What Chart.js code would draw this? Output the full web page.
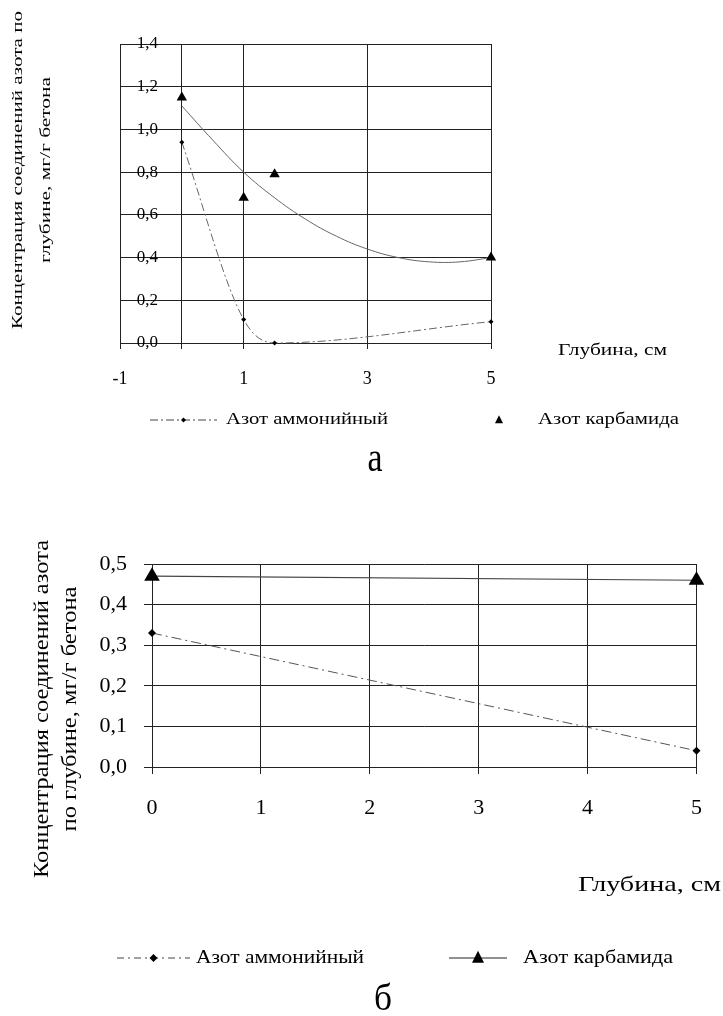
<!DOCTYPE html>
<html>
<head>
<meta charset="utf-8">
<script src="https://cdn.jsdelivr.net/npm/chart.js@4.4.1/dist/chart.umd.min.js"></script>
<style>
  html, body { margin: 0; padding: 0; background: #fff; }
  body { width: 723px; height: 1016px; position: relative; overflow: hidden; }
  canvas { position: absolute; left: 0; }
  #chartA { top: 0; }
  #chartB { top: 500px; }
</style>
</head>
<body>
<canvas id="chartA" width="723" height="500"></canvas>
<canvas id="chartB" width="723" height="516"></canvas>
<script>
// данные рисунка а
const depthA = [0, 1, 1.5, 5];
const ammoniumA = [0.94, 0.11, 0.0, 0.1];
const carbamideA = [1.15, 0.68, 0.79, 0.4];
// линия тренда
const trendDepthA = [0, 0.5, 1, 1.5, 2, 2.5, 3, 3.5, 4, 4.5, 5];
const trendA = [1.11, 0.95, 0.80, 0.68, 0.58, 0.50, 0.44, 0.40, 0.38, 0.38, 0.40];
const xTicksA = [-1, 1, 3, 5];
const yTicksA = [0, 0.2, 0.4, 0.6, 0.8, 1.0, 1.2, 1.4];
const valueAxisAtA = 0;

// данные рисунка б
const depthB = [0, 5];
const ammoniumB = [0.33, 0.04];
const carbamideB = [0.47, 0.46];
const xTicksB = [0, 1, 2, 3, 4, 5];
const yTicksB = [0, 0.1, 0.2, 0.3, 0.4, 0.5];

const seriesNames = ['Азот аммонийный', 'Азот карбамида'];
const yTitle = ['Концентрация соединений азота по', 'глубине, мг/г бетона'];
const yTitleB = ['Концентрация соединений азота', 'по глубине, мг/г бетона'];
const xTitle = 'Глубина, см';

const SERIF = '"Liberation Serif", "Times New Roman", serif';
const comma = v => Number(v).toFixed(1).replace('.', ',');
const pts = (xs, ys) => xs.map((x, i) => ({ x: x, y: ys[i] }));
const setTicks = arr => scale => { scale.ticks = arr.map(v => ({ value: v })); };

function diamond(ctx, x, y, r) {
  ctx.beginPath();
  ctx.moveTo(x, y - r); ctx.lineTo(x + r, y); ctx.lineTo(x, y + r); ctx.lineTo(x - r, y);
  ctx.closePath(); ctx.fill();
}
function triangle(ctx, x, y, w) {
  ctx.beginPath();
  ctx.moveTo(x, y - w * 0.6); ctx.lineTo(x + w / 2, y + w * 0.4); ctx.lineTo(x - w / 2, y + w * 0.4);
  ctx.closePath(); ctx.fill();
}
// текст, растянутый по ширине (в оригинале шрифт шире)
function wideText(ctx, text, x, y, width, align, sy) {
  const w = ctx.measureText(text).width;
  ctx.save();
  ctx.translate(x, y);
  ctx.scale(width / w, sy || 1);
  ctx.textAlign = align || 'left';
  ctx.fillText(text, 0, 0);
  ctx.restore();
}

// подписи, легенда и буква рисунка
const extras = {
  id: 'extras',
  afterDraw(chart, args, o) {
    const ctx = chart.ctx;
    ctx.save();
    ctx.fillStyle = '#000';
    ctx.textBaseline = 'middle';

    ctx.font = o.yTitleFont;
    o.yTitle.forEach((t, i) => {
      ctx.save();
      ctx.translate(o.yTitleX[i], o.yTitleY);
      ctx.rotate(-Math.PI / 2);
      wideText(ctx, t, 0, 0, o.yTitleW[i], 'center');
      ctx.restore();
    });

    ctx.font = o.xTitleFont;
    wideText(ctx, xTitle, o.xTitleX, o.xTitleY, o.xTitleW);

    // легенда
    const L = o.legend;
    ctx.font = L.font;
    ctx.strokeStyle = L.color1;
    ctx.lineWidth = 1;
    ctx.setLineDash(L.dash);
    ctx.beginPath();
    ctx.moveTo(L.x1[0], L.y); ctx.lineTo(L.x1[1], L.y);
    ctx.stroke();
    ctx.setLineDash([]);
    diamond(ctx, (L.x1[0] + L.x1[1]) / 2, L.y, L.dr);
    wideText(ctx, seriesNames[0], L.t1, L.y, L.w1);
    if (L.line2) {
      ctx.strokeStyle = L.color2;
      ctx.beginPath();
      ctx.moveTo(L.x2[0], L.y); ctx.lineTo(L.x2[1], L.y);
      ctx.stroke();
    }
    triangle(ctx, (L.x2[0] + L.x2[1]) / 2, L.y, L.tw);
    wideText(ctx, seriesNames[1], L.t2, L.y, L.w2);

    // буква рисунка, вытянута по высоте как в оригинале
    ctx.font = o.capFont;
    wideText(ctx, o.caption, o.capX, o.capY, o.capW, 'center', o.capSy);
    ctx.restore();
  }
};
Chart.register(extras);

const gridColor = '#222';

// рисунок а
new Chart(document.getElementById('chartA'), {
  type: 'scatter',
  data: {
    datasets: [{
      label: seriesNames[0],
      data: pts(depthA, ammoniumA),
      showLine: true,
      cubicInterpolationMode: 'monotone',
      borderColor: '#666',
      borderWidth: 1,
      borderDash: [8, 3, 2, 3],
      pointStyle: 'rectRot',
      pointRadius: 2.5,
      pointBackgroundColor: '#000',
      pointBorderWidth: 0,
      clip: false
    }, {
      label: seriesNames[1],
      data: pts(depthA, carbamideA),
      showLine: false,
      pointStyle: 'triangle',
      pointRadius: 6,
      pointBackgroundColor: '#000',
      pointBorderWidth: 0,
      clip: false
    }, {
      label: 'trend',
      data: pts(trendDepthA, trendA),
      showLine: true,
      tension: 0.4,
      borderColor: '#666',
      borderWidth: 1,
      pointRadius: 0
    }]
  },
  options: {
    responsive: false,
    animation: false,
    devicePixelRatio: 1,
    layout: { padding: { left: 120, top: 44, right: 232, bottom: 0 } },
    plugins: {
      legend: { display: false },
      tooltip: { enabled: false },
      extras: {
        yTitle: yTitle, yTitleX: [18, 46], yTitleY: 170, yTitleW: [318, 186], yTitleFont: '15px ' + SERIF,
        xTitleX: 558, xTitleY: 351, xTitleW: 109, xTitleFont: '16px ' + SERIF,
        legend: { y: 420, font: '16px ' + SERIF, x1: [150, 217], t1: 226, w1: 162, x2: [490, 508], t2: 538, w2: 141,
                  dash: [8, 3, 2, 3], dr: 2.5, tw: 8, color1: '#444', color2: '#444', line2: false },
        caption: 'а', capX: 375, capY: 460, capW: 15, capSy: 1.4, capFont: '30px ' + SERIF
      }
    },
    scales: {
      x: {
        type: 'linear', min: -1, max: 5,
        afterBuildTicks: setTicks(xTicksA.concat([valueAxisAtA]).sort((a, b) => a - b)),
        afterFit: s => { s.height = 157; },
        grid: { color: gridColor, lineWidth: 1, tickLength: 6 },
        border: { color: gridColor },
        ticks: {
          color: '#000', padding: 19, font: { family: SERIF, size: 18 },
          callback: v => (xTicksA.includes(v) ? String(v) : '')
        }
      },
      y: {
        type: 'linear', min: 0, max: 1.4,
        // подписи стоят между -1 и осью значений
        position: { x: -0.385 },
        afterBuildTicks: setTicks(yTicksA),
        grid: { color: gridColor, lineWidth: 1, drawTicks: false },
        border: { display: false },
        ticks: { color: '#000', font: { family: SERIF, size: 17 }, callback: comma }
      }
    }
  }
});

// рисунок б
new Chart(document.getElementById('chartB'), {
  type: 'scatter',
  data: {
    datasets: [{
      label: seriesNames[0],
      data: pts(depthB, ammoniumB),
      showLine: true,
      borderColor: '#555',
      borderWidth: 1,
      borderDash: [10, 4, 2, 4],
      pointStyle: 'rectRot',
      pointRadius: 4,
      pointBackgroundColor: '#000',
      pointBorderWidth: 0,
      clip: false
    }, {
      label: seriesNames[1],
      data: pts(depthB, carbamideB),
      showLine: true,
      borderColor: '#444',
      borderWidth: 1.2,
      pointStyle: 'triangle',
      pointRadius: 9,
      pointBackgroundColor: '#000',
      pointBorderWidth: 0,
      clip: false
    }]
  },
  options: {
    responsive: false,
    animation: false,
    devicePixelRatio: 1,
    layout: { padding: { left: 0, top: 64, right: 18, bottom: 0 } },
    plugins: {
      legend: { display: false },
      tooltip: { enabled: false },
      extras: {
        yTitle: yTitleB, yTitleX: [42, 70], yTitleY: 209, yTitleW: [338, 245], yTitleFont: '22px ' + SERIF,
        xTitleX: 578, xTitleY: 385, xTitleW: 143, xTitleFont: '21px ' + SERIF,
        legend: { y: 458, font: '18px ' + SERIF, x1: [117, 190], t1: 196, w1: 168, x2: [449, 507], t2: 523, w2: 150,
                  dash: [7, 4, 2, 4], dr: 4, tw: 12, color1: '#444', color2: '#222', line2: true },
        caption: 'б', capX: 383, capY: 500, capW: 18, capSy: 1.2, capFont: '32px ' + SERIF
      }
    },
    scales: {
      x: {
        type: 'linear', min: 0, max: 5,
        afterBuildTicks: setTicks(xTicksB),
        afterFit: s => { s.height = 249; },
        grid: { color: gridColor, lineWidth: 1, tickLength: 7 },
        border: { color: gridColor },
        ticks: { color: '#000', padding: 21, font: { family: SERIF, size: 22 } }
      },
      y: {
        type: 'linear', min: 0, max: 0.5,
        position: 'left',
        afterBuildTicks: setTicks(yTicksB),
        afterFit: s => { s.width = 152; },
        grid: { color: gridColor, lineWidth: 1, tickLength: 8 },
        border: { color: gridColor },
        ticks: { color: '#000', padding: 17, font: { family: SERIF, size: 22 }, callback: comma }
      }
    }
  }
});
</script>
</body>
</html>
